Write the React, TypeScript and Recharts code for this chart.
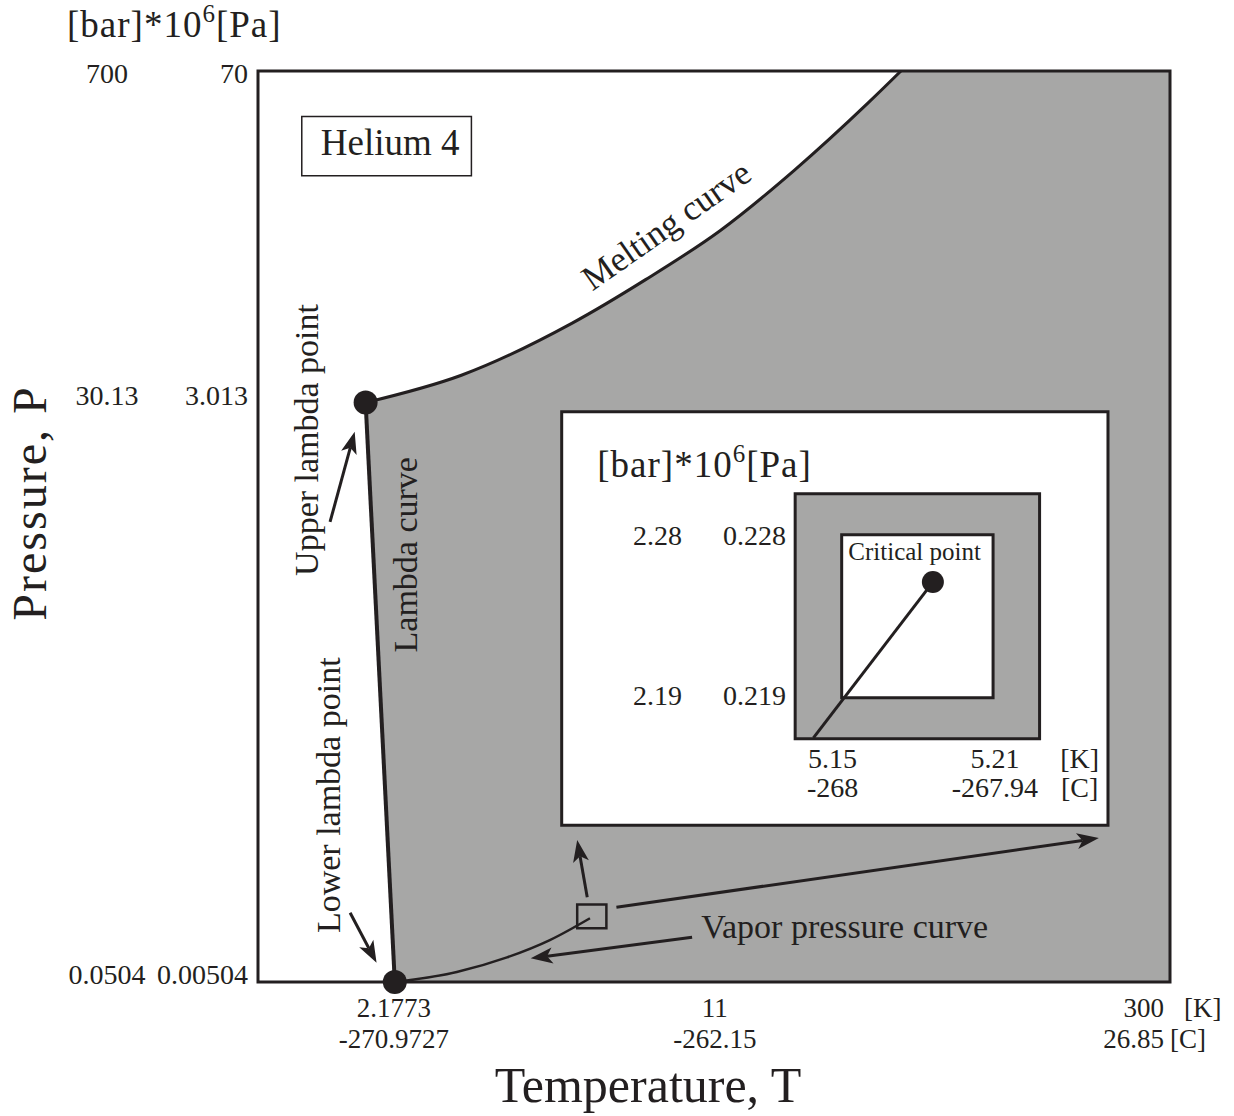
import React from 'react';
import {
  ComposedChart,
  XAxis,
  YAxis,
  Area,
  Line,
  ReferenceArea,
  ReferenceDot,
  ReferenceLine,
} from 'recharts';

const FONT = '"Liberation Serif", "Times New Roman", serif';
const INK = '#231f20';
const GRAY = '#a7a7a6';

// schematic axes (0..100 both ways), ticks sit where the figure puts them
const xTicks = [15, 50.2, 100];
const xTickKelvin = ['2.1773', '11', '300'];
const xTickCelsius = ['-270.9727', '-262.15', '26.85'];
const yTicks = [0, 63.6, 100];
const yTickBar = ['0.0504', '30.13', '700'];
const yTickPa = ['0.00504', '3.013', '70'];

const meltingCurve = [
  { x: 11.8, y: 63.6 },
  { x: 22.3, y: 66.6 },
  { x: 34.4, y: 72.3 },
  { x: 42.5, y: 77.1 },
  { x: 50.7, y: 82.5 },
  { x: 58.8, y: 89.1 },
  { x: 66.9, y: 96.5 },
  { x: 70.5, y: 100 },
  { x: 74.1, y: 103.6 },
];
const liquidRegion = [...meltingCurve, { x: 100, y: 130 }];
const solidWedge = [
  { x: 11, y: 63.6 },
  { x: 11.8, y: 63.6 },
  { x: 15, y: 0 },
];
const lambdaCurve = [
  { x: 15, y: 0 },
  { x: 11.8, y: 63.6 },
];
const vaporCurve = [
  { x: 15, y: 0 },
  { x: 21.8, y: 1.1 },
  { x: 27.3, y: 2.7 },
  { x: 32, y: 4.6 },
  { x: 36.4, y: 7 },
];
const criticalLine = [
  { x: 60.9, y: 26.8 },
  { x: 74, y: 43.9 },
];
const bigDots = [
  { x: 15, y: 0 },
  { x: 11.8, y: 63.6 },
];
const criticalPoint = { x: 74, y: 43.9 };

const arrows = [
  { from: { x: 7.9, y: 50.5 }, to: { x: 10.6, y: 60.4 } },
  { from: { x: 10.1, y: 7.6 }, to: { x: 13.0, y: 2.1 } },
  { from: { x: 47.6, y: 4.9 }, to: { x: 29.9, y: 2.6 } },
  { from: { x: 36.1, y: 9.3 }, to: { x: 35.0, y: 15.6 } },
  { from: { x: 39.3, y: 8.2 }, to: { x: 92.2, y: 15.8 } },
];

const heliumBox = { x1: 4.8, x2: 23.4, y1: 88.5, y2: 95 };
const zoomSquare = { x1: 35, x2: 38.2, y1: 5.9, y2: 8.5 };
const insetBox = { x1: 33.3, x2: 93.2, y1: 17.2, y2: 62.6 };
const insetOuter = { x1: 58.9, x2: 85.7, y1: 26.7, y2: 53.6 };
const insetInner = { x1: 64, x2: 80.6, y1: 31.2, y2: 49.1 };

const insetYTicks = [
  { y: 48, bar: '2.28', pa: '0.228' },
  { y: 30.4, bar: '2.19', pa: '0.219' },
];
const insetXTicks = [
  { x: 63.0, k: '5.15', c: '-268' },
  { x: 80.8, k: '5.21', c: '-267.94' },
];

const notes = [
  { text: 'Helium 4', x: 14.5, y: 90.8, size: 37, anchor: 'middle', angle: 0 },
  { text: 'Melting curve', x: 45.5, y: 82.0, size: 35, anchor: 'middle', angle: -35 },
  { text: 'Upper lambda point', x: 6.6, y: 59.5, size: 34, anchor: 'middle', angle: -90 },
  { text: 'Lambda curve', x: 17.4, y: 46.9, size: 34, anchor: 'middle', angle: -90 },
  { text: 'Lower lambda point', x: 9.0, y: 20.5, size: 34, anchor: 'middle', angle: -90 },
  { text: 'Vapor pressure curve', x: 48.6, y: 4.8, size: 34, anchor: 'start', angle: 0 },
  { text: 'Critical point', x: 72.0, y: 46.3, size: 25, anchor: 'middle', angle: 0 },
  { text: '[K]', x: 90.1, y: 23.5, size: 28, anchor: 'middle', angle: 0 },
  { text: '[C]', x: 90.1, y: 20.3, size: 28, anchor: 'middle', angle: 0 },
];

const txt = { fontFamily: FONT, fill: INK };

const UnitHeader = ({ x, y }: { x: number; y: number }) => (
  <text x={x} y={y} fontSize={37} letterSpacing={1} {...txt}>
    <tspan>[bar]*10</tspan>
    <tspan dy={-15} fontSize={25}>6</tspan>
    <tspan dy={15}>[Pa]</tspan>
  </text>
);

const noteShape = (n: (typeof notes)[number]) => (p: any) => (
  <text
    x={p.cx}
    y={p.cy}
    fontSize={n.size}
    textAnchor={n.anchor as any}
    transform={n.angle ? `rotate(${n.angle} ${p.cx} ${p.cy})` : undefined}
    {...txt}
  >
    {n.text}
  </text>
);

const plainText = (s: string, anchor: string) => (p: any) => (
  <text x={p.cx} y={p.cy} fontSize={28} textAnchor={anchor as any} {...txt}>
    {s}
  </text>
);

const arrowShape = (p: any) => {
  const { x1, y1, x2, y2 } = p;
  const dx = x2 - x1;
  const dy = y2 - y1;
  const len = Math.hypot(dx, dy) || 1;
  const ux = dx / len;
  const uy = dy / len;
  const hl = 22;
  const hw = 8;
  const bx = x2 - ux * hl;
  const by = y2 - uy * hl;
  const nx = x2 - ux * hl * 0.75;
  const ny = y2 - uy * hl * 0.75;
  const pts = `${x2},${y2} ${bx - uy * hw},${by + ux * hw} ${nx},${ny} ${bx + uy * hw},${by - ux * hw}`;
  return (
    <g>
      <line x1={x1} y1={y1} x2={nx} y2={ny} stroke={INK} strokeWidth={3} />
      <polygon points={pts} fill={INK} />
    </g>
  );
};

const YTick = (props: any) => {
  const { x, y, payload } = props;
  const i = yTicks.findIndex(v => Math.abs(v - payload.value) < 0.01);
  if (i < 0) return null;
  const dy = i === 2 ? 12 : 2;
  return (
    <g>
      <text x={x - 141} y={y + dy} fontSize={28} textAnchor="middle" {...txt}>
        {yTickBar[i]}
      </text>
      <text x={x} y={y + dy} fontSize={28} textAnchor="end" {...txt}>
        {yTickPa[i]}
      </text>
    </g>
  );
};

const XTick = (props: any) => {
  const { x, y, payload } = props;
  const i = xTicks.findIndex(v => Math.abs(v - payload.value) < 0.01);
  if (i < 0) return null;
  const fs = 27;
  if (i === xTicks.length - 1) {
    return (
      <g>
        <text x={x - 6} y={y + 35} fontSize={fs} textAnchor="end" {...txt}>{xTickKelvin[i]}</text>
        <text x={x + 14} y={y + 35} fontSize={fs} {...txt}>[K]</text>
        <text x={x - 6} y={y + 66} fontSize={fs} textAnchor="end" {...txt}>{xTickCelsius[i]}</text>
        <text x={x} y={y + 66} fontSize={fs} {...txt}>[C]</text>
      </g>
    );
  }
  return (
    <g>
      <text x={x - 1} y={y + 35} fontSize={fs} textAnchor="middle" {...txt}>{xTickKelvin[i]}</text>
      <text x={x - 1} y={y + 66} fontSize={fs} textAnchor="middle" {...txt}>{xTickCelsius[i]}</text>
    </g>
  );
};

export default function App() {
  return (
    <div style={{ position: 'absolute', left: 0, top: 0, width: 1234, height: 1116, background: '#fff' }}>
      <ComposedChart width={1234} height={1116} margin={{ top: 71, right: 64, bottom: 0, left: 0 }}>
        <XAxis
          type="number"
          dataKey="x"
          domain={[0, 100]}
          allowDataOverflow
          ticks={xTicks}
          interval={0}
          height={134}
          axisLine={false}
          tickLine={false}
          tickSize={0}
          tickMargin={0}
          tick={<XTick />}
          label={(p: any) => {
            const vb = p.viewBox;
            return (
              <text x={vb.x + 390} y={vb.y + 120} fontSize={50} textAnchor="middle" {...txt}>
                Temperature, T
              </text>
            );
          }}
        />
        <YAxis
          type="number"
          dataKey="y"
          domain={[0, 100]}
          allowDataOverflow
          ticks={yTicks}
          interval={0}
          width={258}
          axisLine={false}
          tickLine={false}
          tickSize={0}
          tickMargin={10}
          tick={<YTick />}
          label={(p: any) => {
            const vb = p.viewBox;
            const cx = vb.x + 46;
            const cy = vb.y + 432;
            return (
              <g>
                <UnitHeader x={vb.x + 67} y={vb.y - 34} />
                <text
                  x={cx}
                  y={cy}
                  fontSize={48}
                  letterSpacing={2}
                  textAnchor="middle"
                  transform={`rotate(-90 ${cx} ${cy})`}
                  {...txt}
                >
                  Pressure, P
                </text>
              </g>
            );
          }}
        />

        {/* liquid region under the melting curve */}
        <Area
          data={liquidRegion}
          dataKey="y"
          type="monotone"
          fill={GRAY}
          fillOpacity={1}
          stroke="none"
          dot={false}
          activeDot={false}
          isAnimationActive={false}
          zIndex={10}
        />
        <Area
          data={solidWedge}
          dataKey="y"
          type="linear"
          fill="#fff"
          fillOpacity={1}
          stroke="none"
          dot={false}
          activeDot={false}
          isAnimationActive={false}
          zIndex={11}
        />

        {/* inset */}
        <ReferenceArea {...insetBox} fill="#fff" fillOpacity={1} stroke={INK} strokeWidth={3} zIndex={12} />
        <ReferenceArea {...insetOuter} fill={GRAY} fillOpacity={1} stroke={INK} strokeWidth={3} zIndex={13} />
        <ReferenceArea {...insetInner} fill="#fff" fillOpacity={1} stroke={INK} strokeWidth={3} zIndex={14} />
        <ReferenceArea {...heliumBox} fill="#fff" fillOpacity={1} stroke={INK} strokeWidth={1.5} zIndex={15} />

        <Line data={meltingCurve} dataKey="y" type="monotone" stroke={INK} strokeWidth={3} dot={false} activeDot={false} isAnimationActive={false} zIndex={20} />
        <Line data={lambdaCurve} dataKey="y" type="linear" stroke={INK} strokeWidth={4} dot={false} activeDot={false} isAnimationActive={false} zIndex={20} />
        <Line data={vaporCurve} dataKey="y" type="monotone" stroke={INK} strokeWidth={2.5} dot={false} activeDot={false} isAnimationActive={false} zIndex={20} />
        <Line data={criticalLine} dataKey="y" type="linear" stroke={INK} strokeWidth={3} dot={false} activeDot={false} isAnimationActive={false} zIndex={20} />

        <ReferenceArea {...zoomSquare} fill="none" fillOpacity={0} stroke={INK} strokeWidth={2.5} zIndex={21} />

        {arrows.map((a, i) => (
          <ReferenceLine key={'a' + i} segment={[a.from, a.to]} shape={arrowShape} ifOverflow="visible" zIndex={22} />
        ))}

        {/* plot frame */}
        <ReferenceArea x1={0} x2={100} y1={0} y2={100} fill="none" fillOpacity={0} stroke={INK} strokeWidth={3} zIndex={30} />

        {bigDots.map((d, i) => (
          <ReferenceDot key={'d' + i} x={d.x} y={d.y} r={12} fill={INK} stroke="none" ifOverflow="visible" zIndex={31} />
        ))}
        <ReferenceDot x={criticalPoint.x} y={criticalPoint.y} r={11} fill={INK} stroke="none" zIndex={31} />

        {notes.map((n, i) => (
          <ReferenceDot key={'n' + i} x={n.x} y={n.y} r={1} shape={noteShape(n)} ifOverflow="visible" zIndex={40} />
        ))}
        <ReferenceDot
          x={37.2}
          y={55.4}
          r={1}
          ifOverflow="visible"
          zIndex={40}
          shape={(p: any) => <UnitHeader x={p.cx} y={p.cy} />}
        />
        {insetYTicks.map((t, i) => (
          <React.Fragment key={'iy' + i}>
            <ReferenceDot x={43.8} y={t.y} r={1} shape={plainText(t.bar, 'middle')} ifOverflow="visible" zIndex={40} />
            <ReferenceDot x={57.9} y={t.y} r={1} shape={plainText(t.pa, 'end')} ifOverflow="visible" zIndex={40} />
          </React.Fragment>
        ))}
        {insetXTicks.map((t, i) => (
          <React.Fragment key={'ix' + i}>
            <ReferenceDot x={t.x} y={23.5} r={1} shape={plainText(t.k, 'middle')} ifOverflow="visible" zIndex={40} />
            <ReferenceDot x={t.x} y={20.3} r={1} shape={plainText(t.c, 'middle')} ifOverflow="visible" zIndex={40} />
          </React.Fragment>
        ))}
      </ComposedChart>
    </div>
  );
}
